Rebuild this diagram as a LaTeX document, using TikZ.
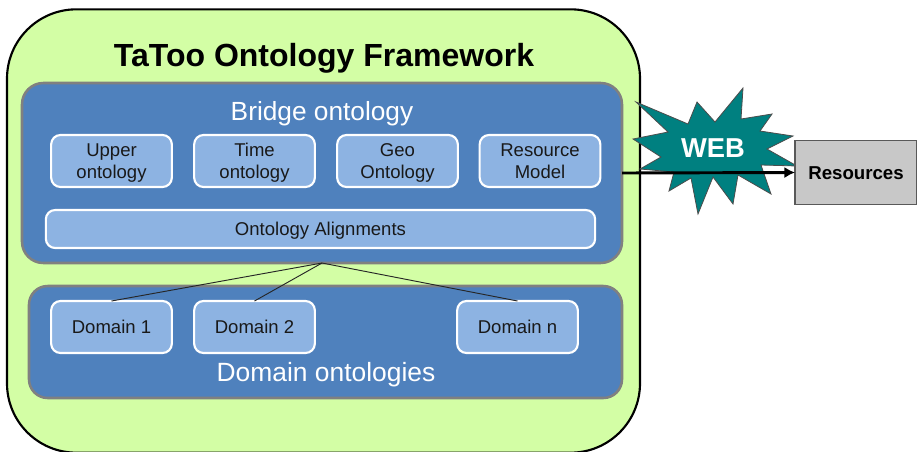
\documentclass[tikz,border=0pt]{standalone}
\usepackage{fontspec}
\setmainfont{Liberation Sans}
\usetikzlibrary{arrows.meta}
\definecolor{greenbg}{HTML}{D3FEA5}
\definecolor{bluebox}{HTML}{4F81BD}
\definecolor{lightbox}{HTML}{8DB3E2}
\definecolor{tealstar}{HTML}{008080}
\definecolor{greybox}{HTML}{C8C8C8}
\newcommand{\fs}[1]{\fontsize{#1}{#1}\selectfont}
\newcommand{\twolines}[2]{\raisebox{-5pt}[0pt][0pt]{\fontsize{13.9}{16.5}\selectfont\begin{tabular}[c]{@{}c@{}}#1\\#2\end{tabular}}}
\newcommand{\oneline}[1]{\raisebox{-5pt}[0pt][0pt]{#1}}
\tikzset{
  x=0.75pt,y=-0.75pt,
  every node/.style={inner sep=0pt,outer sep=0pt,align=center},
  outerbox/.style={draw=black,line width=1.6pt,fill=greenbg,rounded corners=52pt,minimum width=474.75pt,minimum height=332.5pt},
  groupbox/.style={draw=black!50,line width=1.9pt,fill=bluebox,rounded corners=16pt},
  itembox/.style={draw=white,line width=1.6pt,fill=lightbox,rounded corners=7pt,minimum width=90.5pt,minimum height=39pt,text=black!90,font=\fs{13.9}},
  grouptitle/.style={text=white,font=\fs{19.7}},
  link/.style={draw=black!85,line width=0.7pt},
  flow/.style={draw=black,line width=2.2pt,-{Latex[length=8pt,width=8.5pt]}},
}
\begin{document}
\begin{tikzpicture}
\useasboundingbox (0,0) rectangle (917,451);
\clip (0,0) rectangle (917,451);
\node[outerbox] (frame) at (323.5,231) {};
\node[font=\fs{24}\bfseries,text=black] (title) at (324,58) {TaToo Ontology Framework};
\node[groupbox,minimum width=450pt,minimum height=135pt] (bridge) at (322,173) {};
\node[grouptitle] (bridgetitle) at (322,114) {Bridge ontology};
\node[itembox] (upper) at (111.5,161) {\twolines{Upper}{ontology}};
\node[itembox] (time) at (254.5,161) {\twolines{Time}{ontology}};
\node[itembox] (geo) at (397.5,161) {\twolines{Geo}{Ontology}};
\node[itembox] (model) at (540,161) {\twolines{Resource}{Model}};
\node[itembox,minimum width=412pt,minimum height=28.5pt] (align) at (320.5,229) {\oneline{Ontology Alignments}};
\node[groupbox,minimum width=444.75pt,minimum height=84pt,rounded corners=14pt] (domains) at (325.5,342) {};
\node[itembox] (d1) at (111.5,327) {\oneline{Domain 1}};
\node[itembox] (d2) at (254.5,327) {\oneline{Domain 2}};
\node[itembox] (dn) at (517.5,327) {\oneline{Domain n}};
\node[grouptitle,font=\fs{19.8}] (domaintitle) at (326,375) {Domain ontologies};
\draw[link] (bridge.south) -- (d1.north);
\draw[link] (bridge.south) -- (d2.north);
\draw[link] (bridge.south) -- (dn.north);
\draw[draw=black!70,line width=0.6pt,fill=tealstar]
 (636,102)--(688,124)--(697,102)--(715,122)--(743,88)--(741,119)--(772,114)--(760,131)
 --(793,136)--(767,149)--(797,166)--(761,165)--(771,194)--(738,175)--(733,204)--(713,177)
 --(698,214)--(691,178)--(669,191)--(674,172)--(640,169)--(661,157)--(633,139)--(668,132)--cycle;
\node[text=white,font=\fs{20.5}\bfseries] (web) at (713,148) {WEB};
\node[draw=black!65,line width=1.3pt,fill=greybox,minimum width=91.5pt,minimum height=48pt,font=\fs{14}\bfseries,text=black] (res) at (856,172.5) {\oneline{Resources}};
\draw[flow] (bridge.east) -- (res.west);
\end{tikzpicture}
\end{document}
